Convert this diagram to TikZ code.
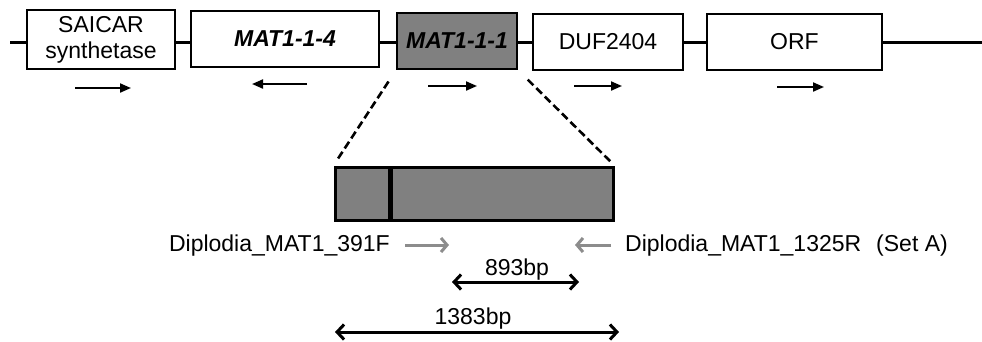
\documentclass[tikz,border=0pt]{standalone}
\usepackage{fontspec}
\setmainfont{Liberation Sans}
\usetikzlibrary{arrows.meta}
\begin{document}
\begin{tikzpicture}[x=1pt,y=-1pt,
  gene/.style={draw=black,line width=1.6pt,fill=white,inner sep=0pt,align=center,
    font=\fontsize{23}{26}\selectfont},
  backbone/.style={line width=3pt},
  dirarrow/.style={line width=2pt,-{Triangle[length=11pt,width=9pt]}},
  primer/.style={line width=3pt,draw=black!45,-{Straight Barb[length=6pt,width=14pt]}},
  sizearrow/.style={line width=3pt,{Straight Barb[length=7pt,width=15pt]}-{Straight Barb[length=7pt,width=15pt]}},
  lbl/.style={font=\fontsize{23}{26}\selectfont,inner sep=0pt},
  zoomline/.style={line width=2.6pt,dash pattern=on 8pt off 4pt}]
\useasboundingbox (0,0) rectangle (982,341);
% backbone
\coordinate (L) at (10,42);
\coordinate (R) at (982,42);
\draw[backbone] (L) -- (R);
% genes
\node[gene,minimum width=148pt,minimum height=59pt] (saicar) at (101,39.5) {SAICAR\\synthetase};
\node[gene,minimum width=188pt,minimum height=56pt] (mat114) at (285,39) {\textbf{\textit{MAT1-1-4}}};
\node[gene,fill=black!50,minimum width=120pt,minimum height=56pt] (mat111) at (457,41) {\textbf{\textit{MAT1-1-1}}};
\node[gene,minimum width=150pt,minimum height=56pt] (duf) at (608,42) {DUF2404};
\node[gene,minimum width=175pt,minimum height=56pt] (orf) at (794.5,42) {ORF};
% direction arrows
\coordinate (a1s) at (75,88);  \coordinate (a1e) at (131,88);
\coordinate (a2s) at (307,84); \coordinate (a2e) at (252,84);
\coordinate (a3s) at (428,86); \coordinate (a3e) at (477,86);
\coordinate (a4s) at (574,86); \coordinate (a4e) at (622,86);
\coordinate (a5s) at (777,87); \coordinate (a5e) at (824,87);
\draw[dirarrow] (a1s) -- (a1e);
\draw[dirarrow] (a2s) -- (a2e);
\draw[dirarrow] (a3s) -- (a3e);
\draw[dirarrow] (a4s) -- (a4e);
\draw[dirarrow] (a5s) -- (a5e);
% detail box
\node[draw=black,line width=3pt,fill=black!50,minimum width=278pt,minimum height=53pt,inner sep=0pt] (detail) at (474,193.5) {};
\coordinate (divt) at (390,167);
\coordinate (divb) at (390,220);
\draw[line width=5pt] (divt) -- (divb);
% zoom lines
\draw[zoomline,shorten <=14pt,shorten >=5pt] (mat111.south west) -- (detail.north west);
\draw[zoomline,shorten <=14pt,shorten >=5pt] (mat111.south east) -- (detail.north east);
% primers
\node[lbl,anchor=base east] (p1) at (390,251) {Diplodia\_MAT1\_391F};
\node[lbl,anchor=base west] (p2) at (625,251) {Diplodia\_MAT1\_1325R\hspace{15pt}(Set A)};
\coordinate (g1s) at (405,245); \coordinate (g1e) at (449,245);
\coordinate (g2s) at (611,245); \coordinate (g2e) at (575,245);
\draw[primer] (g1s) -- (g1e);
\draw[primer] (g2s) -- (g2e);
% sizes
\coordinate (s1a) at (452,282); \coordinate (s1b) at (579,282);
\draw[sizearrow] (s1a) -- (s1b);
\node[lbl,anchor=base] (t1) at (517,275) {893bp};
\coordinate (s2a) at (335,332); \coordinate (s2b) at (619,332);
\draw[sizearrow] (s2a) -- (s2b);
\node[lbl,anchor=base] (t2) at (473,324) {1383bp};
\end{tikzpicture}
\end{document}
